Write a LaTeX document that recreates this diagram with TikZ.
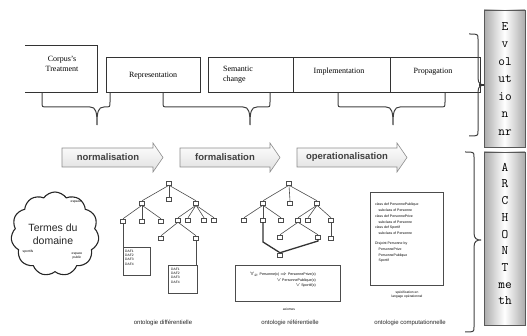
\documentclass[tikz,border=0pt]{standalone}
\usepackage{fontspec}
\setmainfont{Liberation Serif}
\setsansfont{Liberation Sans}
\usetikzlibrary{shapes.symbols}
\newcommand\dnbrace[3]{%
  \draw[brace] (#1,93) -- (#1,102) .. controls (#1,107) .. ({#1+5},107) -- ({#3-7},107)
    .. controls ({#3-1},107) and (#3,112) .. (#3,125)
    .. controls (#3,112) and ({#3+1},107) .. ({#3+7},107) -- ({#2-5},107)
    .. controls (#2,107) .. (#2,102) -- (#2,93);}
\newcommand\rtbrace[6]{%
  \draw[brace] (#4,#1) .. controls (#5,#1) .. (#5,{#1+5}) -- (#5,{#3-7})
    .. controls (#5,{#3-1}) and ({#5+3},#3) .. (#6,#3)
    .. controls ({#5+3},#3) and (#5,{#3+1}) .. (#5,{#3+7}) -- (#5,{#2-5})
    .. controls (#5,#2) .. (#4,#2);}
\newcommand\blockarrow[2]{%
  \draw[barrow] (#1,148) -- ({#2-10},148) -- ({#2-10},143) -- (#2,157.5) -- ({#2-10},172)
    -- ({#2-10},167) -- (#1,167) -- cycle;}
\begin{document}
\begin{tikzpicture}[x=1pt,y=-1pt,
  topbox/.style={draw=black!80, line width=1pt, inner sep=0pt},
  toptext/.style={font=\fontsize{8}{10}\selectfont, align=center},
  brace/.style={draw=black!75, line width=1pt},
  barrow/.style={draw=black!45, line width=0.6pt, top color=white, bottom color=gray!25},
  arrtext/.style={font=\sffamily\bfseries\fontsize{9.5}{11}\selectfont, text=black!75},
  tn/.style={draw=black!70, fill=white, minimum width=5pt, minimum height=4pt, inner sep=0pt, line width=0.5pt},
  tl/.style={draw=black!70, line width=0.6pt},
  thk/.style={draw=black!80, line width=1.3pt},
  tiny/.style={font=\sffamily\fontsize{3.3}{4.2}\selectfont, align=left, inner sep=0pt},
  tbox/.style={draw=black!70, line width=0.7pt, inner sep=0pt},
  caption/.style={font=\sffamily\fontsize{6}{7}\selectfont, text=black!85},
  side/.style={draw=black!65, line width=0.8pt, left color=gray!65, right color=gray!65, middle color=white, inner sep=0pt},
  sidetext/.style={align=center, inner sep=0pt}]
\useasboundingbox (0,0) rectangle (527,336);

% ---- top row of phases
\draw[topbox] (25,46) -- (97,46) -- (97,93) -- (25,93);
\node[toptext] (corpus) at (62,64) {Corpus's\\Treatment};
\node[topbox, minimum width=94pt, minimum height=35pt] (repr) at (153,75.5) {};
\node[toptext] (reprt) at (repr) {Representation};
\node[topbox, minimum width=85pt, minimum height=35pt] (sem) at (250.5,75.5) {};
\node[toptext, align=left] (semt) at (238,75) {Semantic\\change};
\node[topbox, minimum width=97pt, minimum height=35pt] (impl) at (341.5,75.5) {};
\node[toptext] (implt) at (339,72) {Implementation};
\node[topbox, minimum width=90pt, minimum height=35pt] (prop) at (435,75.5) {};
\node[toptext] (propt) at (433,72) {Propagation};

% ---- braces under the phases
\dnbrace{42}{110}{97}
\dnbrace{163}{270}{250}
\dnbrace{338}{445}{393}

% ---- right braces and side boxes
\rtbrace{34}{136}{85}{469}{478}{485}
\rtbrace{152}{332}{240}{465}{474}{481}
\node[side, minimum width=41pt, minimum height=137pt] (evo) at (504.5,78.5) {};
\node[sidetext, font=\ttfamily\fontsize{13}{17.5}\selectfont] (evot) at (505,79) {E\\v\\ol\\ut\\io\\n\\nr};
\node[side, minimum width=41pt, minimum height=173pt] (arch) at (504.5,238.5) {};
\node[sidetext, font=\ttfamily\fontsize{13}{16.7}\selectfont] (archt) at (505,234) {A\\R\\C\\H\\O\\N\\T\\me\\th};
\coordinate (tipA) at (479,85);
\draw[line width=1.6pt, black!80] (tipA) -- (tipA -| evo.west);

% ---- process arrows
\blockarrow{62}{163}
\node[arrtext] (norm) at (108,157.5) {normalisation};
\blockarrow{180}{280}
\node[arrtext] (form) at (225,157.5) {formalisation};
\blockarrow{297}{407}
\node[arrtext] (oper) at (347,157.5) {operationalisation};

% ---- cloud
\node[cloud, cloud puffs=11, cloud puff arc=110, aspect=1.05, draw=black!85, line width=1.1pt,
  minimum width=88pt, minimum height=84pt] (cloud) at (55,234) {};
\node[font=\sffamily\fontsize{10.5}{12.5}\selectfont, align=center, text=black!85] (termes) at (53,234) {Termes du\\domaine};
\node[tiny] (cw1) at (76,202) {espace};
\node[tiny] (cw2) at (28,252) {sportifs};
\node[tiny, align=center] (cw3) at (77,256) {espace\\public};

% ---- tree 1 : ontologie differentielle
\node[tn] (r1) at (169,183) {};
\node[tn] (a) at (142,203) {};
\node[tn] (b) at (169,199) {};
\node[tn] (c) at (196,203) {};
\node[tn] (a1) at (123,221) {};
\node[tn] (a2) at (142,221) {};
\node[tn] (a3) at (161,221) {};
\node[tn] (c1) at (178,220) {};
\node[tn] (c2) at (188,220) {};
\node[tn] (c3) at (204,220) {};
\node[tn] (c4) at (214,220) {};
\node[tn] (d1) at (161,238) {};
\node[tn] (d2) at (196,238) {};
\foreach \p/\c in {r1/a,r1/b,r1/c,a/a1,a/a2,a/a3,c/c1,c/c2,c/c3,c/c4,c1/d1,c1/d2}
  \draw[tl] (\p.south) -- (\c.north);
\node[tbox, minimum width=27pt, minimum height=28pt] (boxA) at (136.5,261) {};
\node[tiny, anchor=north west] (boxAt) at (125,250) {DAF1\\DAF2\\DAF3\\DAF4};
\node[tbox, minimum width=29pt, minimum height=28pt] (boxB) at (182.5,279) {};
\node[tiny, anchor=north west] (boxBt) at (171,268) {DAF1\\DAF2\\DAF3\\DAF4};
\draw[tl] (a1.south) -- (a1 |- boxA.north);
\draw[tl] (d2.south) -- (d2 |- boxB.north);
\node[caption] (cap1) at (163,323) {ontologie différentielle};

% ---- tree 2 : ontologie referentielle
\node[tn] (r2) at (289,183) {};
\node[tn] (e) at (263,203) {};
\node[tn] (f) at (290,203) {};
\node[tn] (g) at (317,203) {};
\node[tn] (e1) at (244,220) {};
\node[tn] (e2) at (263,220) {};
\node[tn] (e3) at (281,220) {};
\node[tn] (g1) at (298,220) {};
\node[tn] (g2) at (308,220) {};
\node[tn] (g3) at (331,220) {};
\node[tn] (h1) at (280,237) {};
\node[tn] (h2) at (318,237) {};
\node[tn] (g4) at (331,238) {};
\node[tn] (k) at (280,255) {};
\foreach \p/\c in {r2/e,r2/f,r2/g,e/e1,e/e2,e/e3,g/g1,g/g2,g/g3,g1/h1,g1/h2,g3/g4}
  \draw[tl] (\p.south) -- (\c.north);
\draw[thk] (e2.south) -- (263,242) -- (k.north);
\draw[thk] (h2.south) -- (318,241) -- (k.north);
\node[tbox, minimum width=105pt, minimum height=36pt] (axbox) at (287.5,283) {};
\node[font=\sffamily\fontsize{3.6}{5.5}\selectfont, align=right, inner sep=0pt] (axt) at (283,280)
  {$\forall_x$ Personne(x) $\Rightarrow$ PersonnePrive(x)\\$\vee$ PersonnePublique(x)\\$\vee$ Sportif(x)};
\node[tiny] (axl) at (289,309) {axiomes};
\node[caption] (cap2) at (290,323) {ontologie référentielle};

% ---- computational ontology
\node[tbox, minimum width=73pt, minimum height=93pt] (comp) at (406.5,238.5) {};
\node[font=\sffamily\fontsize{3.5}{5.8}\selectfont, align=left, inner sep=0pt, anchor=north west] (compt) at (375,203)
  {class def PersonnePublique\\\quad subclass of Personne\\class def PersonnePrive\\\quad subclass of Personne\\class def Sportif\\\quad subclass of Personne\\[4pt]Disjoint Personne by\\\quad PersonnePrive\\\quad PersonnePublique\\\quad Sportif};
\node[tiny, align=center] (compl) at (407,295) {spécification en\\langage opérationnel};
\node[caption] (cap3) at (410,323) {ontologie computationnelle};
\end{tikzpicture}
\end{document}
